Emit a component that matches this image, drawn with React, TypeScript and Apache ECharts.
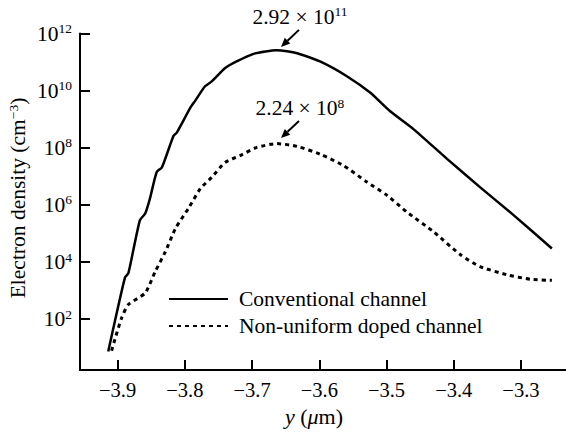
import React, { useEffect, useRef } from "react";
import * as echarts from "echarts";

const FONT = "'Liberation Serif', 'Times New Roman', Times, 'DejaVu Serif', serif";

const seriesNames = ["Conventional channel", "Non-uniform doped channel"];

const conventionalX = [
  -3.914, -3.91, -3.904, -3.889, -3.884, -3.867, -3.859, -3.852, -3.842, -3.834,
  -3.817, -3.812, -3.792, -3.785, -3.77, -3.76, -3.74, -3.723, -3.698, -3.68,
  -3.664, -3.648, -3.633, -3.599, -3.559, -3.524, -3.495, -3.46, -3.41, -3.361,
  -3.311, -3.254,
];
const conventionalY = [
  7.4, 20, 87, 2.9e3, 4.1e3, 2.9e5, 5.0e5, 1.66e6, 1.4e7, 2.1e7,
  2.6e8, 3.4e8, 2.5e9, 4.3e9, 1.42e10, 2.1e10, 6.2e10, 1.05e11, 1.94e11, 2.35e11,
  2.6e11, 2.4e11, 2.04e11, 1.05e11, 3.2e10, 8.4e9, 1.93e9, 4.5e8, 4.1e7, 4.2e6,
  4.4e5, 3.0e4,
];

const nonUniformX = [
  -3.909, -3.904, -3.894, -3.884, -3.859, -3.844, -3.829, -3.814, -3.795, -3.777,
  -3.76, -3.74, -3.718, -3.693, -3.663, -3.633, -3.599, -3.564, -3.529, -3.499,
  -3.47, -3.43, -3.39, -3.361, -3.321, -3.286, -3.254,
];
const nonUniformY = [
  7.9, 20, 113, 327, 830, 4.7e3, 2.3e4, 1.5e5, 7.4e5, 3.7e6,
  9.3e6, 3.1e7, 5.3e7, 1.03e8, 1.4e8, 1.12e8, 6.0e7, 2.4e7, 6.3e6, 2.15e6,
  5.7e5, 1.15e5, 1.8e4, 7.0e3, 3.6e3, 2.5e3, 2.3e3,
];

// Peak annotations (arrow tip in data space, label text)
const annotX = [-3.657, -3.657];
const annotY = [3.4e11, 2.2e8];
const annotMantissa = ["2.92", "2.24"];
const annotExponent = ["11", "8"];

const X_MIN = -3.956;
const X_MAX = -3.233;
const Y_MIN = Math.pow(10, 0.22);
const Y_MAX = 1e12;

export default function App() {
  const ref = useRef<HTMLDivElement>(null);

  useEffect(() => {
    if (!ref.current) return;
    const chart = echarts.init(ref.current, null, { renderer: "svg" });

    const conv = conventionalX.map((x, i) => [x, conventionalY[i]]);
    const nonu = nonUniformX.map((x, i) => [x, nonUniformY[i]]);

    chart.setOption({
      animation: false,
      backgroundColor: "#ffffff",
      textStyle: { fontFamily: FONT, color: "#000" },
      grid: { left: 80, right: 0, top: 33.5, bottom: 59, containLabel: false },
      legend: {
        orient: "vertical",
        left: 168,
        top: 288,
        padding: 0,
        itemWidth: 59,
        itemHeight: 22,
        itemGap: 5,
        selectedMode: false,
        data: seriesNames,
        itemStyle: { opacity: 0, borderWidth: 0 },
        textStyle: {
          fontFamily: FONT,
          fontSize: 21.5,
          color: "#000",
          padding: [0, 0, 0, 6],
        },
      },
      xAxis: {
        type: "value",
        min: X_MIN,
        max: X_MAX,
        splitNumber: 7,
        splitLine: { show: false },
        axisLine: { lineStyle: { color: "#000", width: 2 } },
        axisTick: { inside: true, length: 10, lineStyle: { color: "#000", width: 2 } },
        axisLabel: {
          showMinLabel: false,
          showMaxLabel: false,
          margin: 9,
          fontFamily: FONT,
          fontSize: 20.5,
          color: "#000",
          formatter: (v: number) => v.toFixed(1).replace("-", "\u2212"),
        },
        name: "{i|y} ({i|\u03bc}m)",
        nameLocation: "middle",
        nameGap: 33,
        nameTextStyle: {
          fontFamily: FONT,
          fontSize: 22,
          color: "#000",
          padding: [0, 18, 0, 0],
          rich: {
            i: { fontFamily: FONT, fontSize: 22, fontStyle: "italic", color: "#000" },
          },
        },
      },
      yAxis: {
        type: "log",
        logBase: 100,
        min: Y_MIN,
        max: Y_MAX,
        splitLine: { show: false },
        minorTick: { show: false },
        axisLine: { lineStyle: { color: "#000", width: 2 } },
        axisTick: { inside: true, length: 10, lineStyle: { color: "#000", width: 2 } },
        axisLabel: {
          showMinLabel: false,
          margin: 8,
          color: "#000",
          fontFamily: FONT,
          formatter: (v: number) => {
            const e = Math.round(Math.log10(v));
            return `{b|10}{s|${e}}`;
          },
          rich: {
            b: { fontFamily: FONT, fontSize: 21.5, color: "#000", lineHeight: 24 },
            s: { fontFamily: FONT, fontSize: 13.5, color: "#000", verticalAlign: "top", lineHeight: 24 },
          },
        },
      },
      series: [
        {
          name: seriesNames[0],
          type: "line",
          data: conv,
          symbol: "none",
          smooth: 0.2,
          lineStyle: { color: "#000", width: 2.5, type: "solid" },
          itemStyle: { color: "#000" },
        },
        {
          name: seriesNames[1],
          type: "line",
          data: nonu,
          symbol: "none",
          smooth: 0.2,
          lineStyle: { color: "#000", width: 3, type: [4, 4], cap: "butt" },
          itemStyle: { color: "#000" },
        },
      ],
    });

    const graphics: any[] = [];
    // y-axis title
    graphics.push({
      type: "text",
      x: 18,
      y: 198,
      rotation: Math.PI / 2,
      style: {
        text: "{n|Electron density (cm}{s|\u22123}{n|)}",
        align: "center",
        verticalAlign: "middle",
        fontFamily: FONT,
        rich: {
          n: { fontFamily: FONT, fontSize: 21.5, fill: "#000", lineHeight: 24 },
          s: { fontFamily: FONT, fontSize: 13.5, fill: "#000", verticalAlign: "top", lineHeight: 24 },
        },
      },
      silent: true,
    });

    annotX.forEach((ax, i) => {
      const tip = chart.convertToPixel({ gridIndex: 0 }, [ax, annotY[i]]) as number[];
      if (!tip) return;
      const [tx, ty] = tip;
      const dx = 18;
      const dy = -17;
      const len = Math.sqrt(dx * dx + dy * dy);
      const ux = dx / len;
      const uy = dy / len;
      const headLen = 9;
      const headHalf = 4;
      const bx = tx + ux * headLen;
      const by = ty + uy * headLen;
      graphics.push({
        type: "line",
        shape: { x1: tx + dx, y1: ty + dy, x2: bx, y2: by },
        style: { stroke: "#000", lineWidth: 2 },
        silent: true,
      });
      graphics.push({
        type: "polygon",
        shape: {
          points: [
            [tx, ty],
            [bx - uy * headHalf, by + ux * headHalf],
            [bx + uy * headHalf, by - ux * headHalf],
          ],
        },
        style: { fill: "#000" },
        silent: true,
      });
      graphics.push({
        type: "text",
        x: tx + 19,
        y: ty + dy - 13,
        style: {
          text: `{n|${annotMantissa[i]} \u00d7 10}{s|${annotExponent[i]}}`,
          align: "center",
          verticalAlign: "middle",
          fontFamily: FONT,
          rich: {
            n: { fontFamily: FONT, fontSize: 21.5, fill: "#000", lineHeight: 24 },
            s: { fontFamily: FONT, fontSize: 13.5, fill: "#000", verticalAlign: "top", lineHeight: 24 },
          },
        },
        silent: true,
      });
    });
    chart.setOption({ graphic: graphics });

    return () => chart.dispose();
  }, []);

  return (
    <div
      ref={ref}
      style={{ position: "fixed", left: 0, top: 0, width: 566, height: 432, background: "#fff" }}
    />
  );
}
